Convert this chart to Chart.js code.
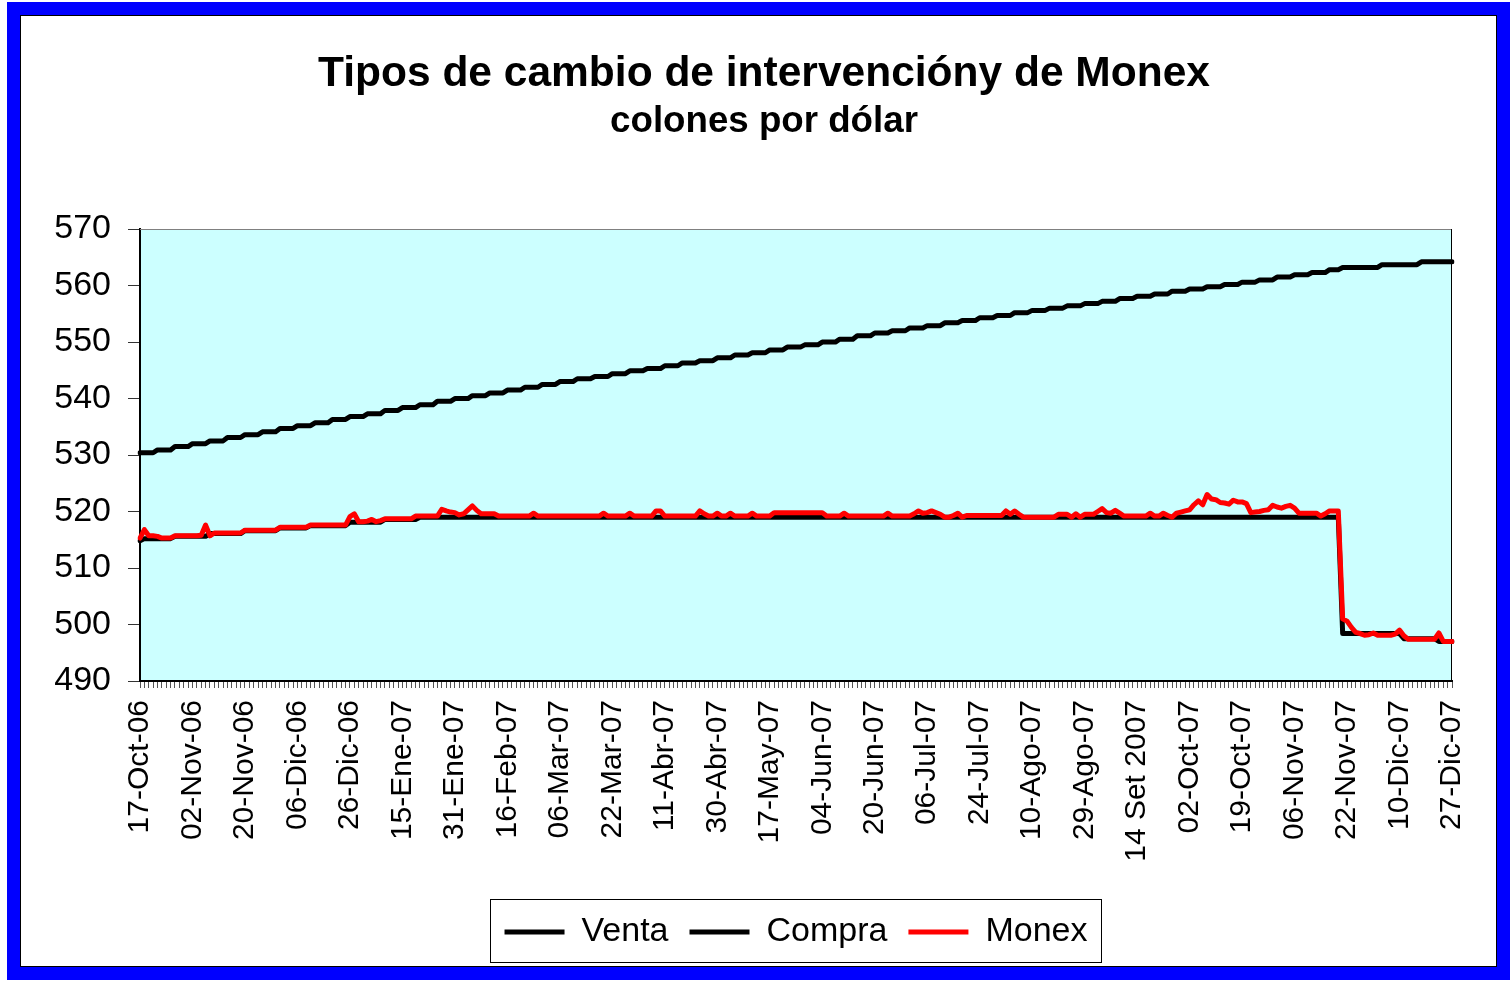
<!DOCTYPE html>
<html><head><meta charset="utf-8">
<script src="https://cdn.jsdelivr.net/npm/chart.js@4.4.1/dist/chart.umd.min.js"></script>
<style>
html,body{margin:0;padding:0;background:#fff;width:1512px;height:982px;overflow:hidden}
#frame{position:absolute;left:7px;top:2px;width:1503px;height:978px;box-sizing:border-box;border:13px solid #0000FF;box-shadow:inset 0 0 0 1px #000;background:#fff}
#c{position:absolute;left:0;top:0}
</style></head><body>
<div id="frame"></div>
<canvas id="c" width="1512" height="982"></canvas>
<script>
// Tick labels shown every 12 business days
const tickLabels = ['17-Oct-06','02-Nov-06','20-Nov-06','06-Dic-06','26-Dic-06','15-Ene-07','31-Ene-07','16-Feb-07','06-Mar-07','22-Mar-07','11-Abr-07','30-Abr-07','17-May-07','04-Jun-07','20-Jun-07','06-Jul-07','24-Jul-07','10-Ago-07','29-Ago-07','14 Set 2007','02-Oct-07','19-Oct-07','06-Nov-07','22-Nov-07','10-Dic-07','27-Dic-07'];
const labelEvery = 12;

const venta = [
530.4,530.4,530.4,530.4,530.9,530.9,530.9,530.9,531.5,531.5,531.5,531.5,
532.0,532.0,532.0,532.0,532.5,532.5,532.5,532.5,533.1,533.1,533.1,533.1,
533.6,533.6,533.6,533.6,534.1,534.1,534.1,534.1,534.7,534.7,534.7,534.7,
535.2,535.2,535.2,535.2,535.7,535.7,535.7,535.7,536.3,536.3,536.3,536.3,
536.8,536.8,536.8,536.8,537.3,537.3,537.3,537.3,537.9,537.9,537.9,537.9,
538.4,538.4,538.4,538.4,538.9,538.9,538.9,538.9,539.5,539.5,539.5,539.5,
540.0,540.0,540.0,540.0,540.5,540.5,540.5,540.5,541.0,541.0,541.0,541.0,
541.5,541.5,541.5,541.5,542.0,542.0,542.0,542.0,542.5,542.5,542.5,542.5,
543.0,543.0,543.0,543.0,543.5,543.5,543.5,543.5,543.9,543.9,543.9,543.9,
544.4,544.4,544.4,544.4,544.9,544.9,544.9,544.9,545.3,545.3,545.3,545.3,
545.8,545.8,545.8,545.8,546.3,546.3,546.3,546.3,546.7,546.7,546.7,546.7,
547.2,547.2,547.2,547.2,547.7,547.7,547.7,547.7,548.1,548.1,548.1,548.1,
548.6,548.6,548.6,548.6,549.1,549.1,549.1,549.1,549.5,549.5,549.5,549.5,
550.0,550.0,550.0,550.0,550.5,550.5,550.5,550.5,551.1,551.1,551.1,551.1,
551.6,551.6,551.6,551.6,552.0,552.0,552.0,552.0,552.5,552.5,552.5,552.5,
552.9,552.9,552.9,552.9,553.4,553.4,553.4,553.4,553.8,553.8,553.8,553.8,
554.3,554.3,554.3,554.3,554.7,554.7,554.7,554.7,555.2,555.2,555.2,555.2,
555.6,555.6,555.6,555.6,556.0,556.0,556.0,556.0,556.4,556.4,556.4,556.4,
556.8,556.8,556.8,556.8,557.2,557.2,557.2,557.2,557.7,557.7,557.7,557.7,
558.1,558.1,558.1,558.1,558.5,558.5,558.5,558.5,559.0,559.0,559.0,559.0,
559.4,559.4,559.4,559.4,559.8,559.8,559.8,559.8,560.2,560.2,560.2,560.2,
560.6,560.6,560.6,560.6,561.0,561.0,561.0,561.0,561.5,561.5,561.5,561.5,
561.9,561.9,561.9,561.9,562.3,562.3,562.3,562.3,562.8,562.8,562.8,563.2,
563.2,563.2,563.2,563.2,563.2,563.2,563.2,563.2,563.7,563.7,563.7,563.7,
563.7,563.7,563.7,563.7,563.7,564.2,564.2,564.2,564.2,564.2,564.2,564.2,
564.2];

const compra = [
514.8,515.2,515.2,515.2,515.2,515.2,515.2,515.2,515.6,515.6,515.6,515.6,
515.6,515.6,515.6,515.6,516.1,516.1,516.1,516.1,516.1,516.1,516.1,516.1,
516.6,516.6,516.6,516.6,516.6,516.6,516.6,516.6,517.1,517.1,517.1,517.1,
517.1,517.1,517.1,517.5,517.5,517.5,517.5,517.5,517.5,517.5,517.5,517.5,
518.1,518.1,518.1,518.1,518.1,518.1,518.1,518.1,518.6,518.6,518.6,518.6,
518.6,518.6,518.6,518.6,519.0,519.0,519.0,519.0,519.0,519.0,519.0,519.0,
519.0,519.0,519.0,519.0,519.0,519.0,519.0,519.0,519.0,519.0,519.0,519.0,
519.0,519.0,519.0,519.0,519.0,519.0,519.0,519.0,519.0,519.0,519.0,519.0,
519.0,519.0,519.0,519.0,519.0,519.0,519.0,519.0,519.0,519.0,519.0,519.0,
519.0,519.0,519.0,519.0,519.0,519.0,519.0,519.0,519.0,519.0,519.0,519.0,
519.0,519.0,519.0,519.0,519.0,519.0,519.0,519.0,519.0,519.0,519.0,519.0,
519.0,519.0,519.0,519.0,519.0,519.0,519.0,519.0,519.0,519.0,519.0,519.0,
519.0,519.0,519.0,519.0,519.0,519.0,519.0,519.0,519.0,519.0,519.0,519.0,
519.0,519.0,519.0,519.0,519.0,519.0,519.0,519.0,519.0,519.0,519.0,519.0,
519.0,519.0,519.0,519.0,519.0,519.0,519.0,519.0,519.0,519.0,519.0,519.0,
519.0,519.0,519.0,519.0,519.0,519.0,519.0,519.0,519.0,519.0,519.0,519.0,
519.0,519.0,519.0,519.0,519.0,519.0,519.0,519.0,519.0,519.0,519.0,519.0,
519.0,519.0,519.0,519.0,519.0,519.0,519.0,519.0,519.0,519.0,519.0,519.0,
519.0,519.0,519.0,519.0,519.0,519.0,519.0,519.0,519.0,519.0,519.0,519.0,
519.0,519.0,519.0,519.0,519.0,519.0,519.0,519.0,519.0,519.0,519.0,519.0,
519.0,519.0,519.0,519.0,519.0,519.0,519.0,519.0,519.0,519.0,519.0,519.0,
519.0,519.0,519.0,519.0,519.0,519.0,519.0,519.0,519.0,519.0,519.0,519.0,
519.0,519.0,519.0,519.0,519.0,519.0,519.0,519.0,519.0,519.0,519.0,498.4,
498.4,498.4,498.4,498.4,498.4,498.4,498.4,498.4,498.4,498.4,498.4,498.4,
498.4,497.5,497.5,497.5,497.5,497.5,497.5,497.5,497.5,497.0,497.0,497.0,
497.0];

const monex = [
515.3,516.8,515.7,515.7,515.6,515.3,515.3,515.3,515.7,515.7,515.7,515.7,
515.7,515.7,515.8,517.6,515.7,516.2,516.2,516.2,516.2,516.2,516.2,516.2,
516.7,516.7,516.7,516.7,516.7,516.7,516.7,516.7,517.2,517.2,517.2,517.2,
517.2,517.2,517.2,517.6,517.6,517.6,517.6,517.6,517.6,517.6,517.6,517.6,
519.1,519.6,518.2,518.2,518.3,518.6,518.2,518.4,518.7,518.7,518.7,518.7,
518.7,518.7,518.7,519.2,519.2,519.2,519.2,519.2,519.2,520.4,520.1,519.9,
519.8,519.4,519.6,520.3,521.0,520.2,519.6,519.6,519.6,519.6,519.2,519.2,
519.2,519.2,519.2,519.2,519.2,519.2,519.7,519.2,519.2,519.2,519.2,519.2,
519.2,519.2,519.2,519.2,519.2,519.2,519.2,519.2,519.2,519.2,519.7,519.2,
519.2,519.2,519.2,519.2,519.7,519.2,519.2,519.2,519.2,519.2,520.1,520.1,
519.2,519.2,519.2,519.2,519.2,519.2,519.2,519.2,520.1,519.6,519.2,519.2,
519.7,519.2,519.2,519.7,519.2,519.2,519.2,519.2,519.7,519.2,519.2,519.2,
519.2,519.8,519.8,519.8,519.8,519.8,519.8,519.8,519.8,519.8,519.8,519.8,
519.8,519.2,519.2,519.2,519.2,519.7,519.2,519.2,519.2,519.2,519.2,519.2,
519.2,519.2,519.2,519.7,519.2,519.2,519.2,519.2,519.2,519.6,520.1,519.7,
519.8,520.1,519.8,519.5,519.0,519.0,519.3,519.7,519.0,519.3,519.3,519.3,
519.3,519.3,519.3,519.3,519.3,519.3,520.1,519.5,520.1,519.5,519.0,519.0,
519.0,519.0,519.0,519.0,519.0,519.0,519.5,519.5,519.5,519.0,519.6,519.0,
519.5,519.5,519.5,520.0,520.5,519.8,519.7,520.2,519.7,519.2,519.2,519.2,
519.2,519.2,519.2,519.7,519.2,519.2,519.7,519.3,519.0,519.7,519.9,520.1,
520.3,521.2,521.9,521.2,523.0,522.2,522.1,521.6,521.5,521.3,522.0,521.7,
521.7,521.4,519.8,519.9,520.0,520.2,520.3,521.1,520.8,520.6,520.9,521.1,
520.6,519.7,519.7,519.7,519.7,519.7,519.2,519.6,520.1,520.1,520.1,501.0,
500.6,499.5,498.6,498.4,498.1,498.2,498.5,498.1,498.1,498.1,498.1,498.3,
499.0,498.0,497.4,497.4,497.4,497.4,497.4,497.4,497.4,498.5,497.0,497.0,
497.0];

// category axis: one entry per data point, tick text every 12th point
const categories = venta.map((v, i) => (i % labelEvery === 0 ? (tickLabels[i / labelEvery] || '') : ''));

const SANS = "'Liberation Sans', Arial, sans-serif";

const plotBg = {
  id: 'plotBg',
  beforeDraw(chart){
    const {ctx, chartArea: a} = chart;
    ctx.save(); ctx.fillStyle = '#CCFFFF';
    ctx.fillRect(a.left, a.top, a.right - a.left, a.bottom - a.top);
    ctx.restore();
  },
  beforeDatasetsDraw(chart){
    const {ctx, chartArea: a} = chart;
    ctx.save(); ctx.lineWidth = 1;
    ctx.strokeStyle = '#808080';
    ctx.beginPath(); ctx.moveTo(a.left, Math.round(a.top) + 0.5); ctx.lineTo(a.right, Math.round(a.top) + 0.5); ctx.stroke();
    ctx.strokeStyle = '#000';
    ctx.beginPath(); ctx.moveTo(Math.round(a.right) - 0.5, a.top); ctx.lineTo(Math.round(a.right) - 0.5, a.bottom); ctx.stroke();
    ctx.restore();
  }
};
const legendBox = {
  id: 'legendBox',
  afterDraw(chart){
    const lg = chart.legend; if (!lg || !lg.legendHitBoxes || !lg.legendHitBoxes.length) return;
    const hb = lg.legendHitBoxes;
    let minL = Infinity, maxR = -Infinity;
    hb.forEach(h => { minL = Math.min(minL, h.left); maxR = Math.max(maxR, h.left + h.width); });
    const x0 = Math.round(minL - 15), x1 = Math.round(maxR + 14);
    const y0 = Math.round(hb[0].top - 16), y1 = Math.round(hb[0].top + 47);
    const ctx = chart.ctx; ctx.save(); ctx.strokeStyle = '#000'; ctx.lineWidth = 1;
    ctx.strokeRect(x0 + 0.5, y0 + 0.5, x1 - x0, y1 - y0); ctx.restore();
  }
};

const common = { pointRadius: 0, pointHoverRadius: 0, borderWidth: 5, tension: 0, fill: false, borderCapStyle: 'round', borderJoinStyle: 'round' };

new Chart(document.getElementById('c'), {
  type: 'line',
  data: {
    labels: categories,
    datasets: [
      Object.assign({ label: 'Venta', data: venta, borderColor: '#000000', backgroundColor: '#000000', order: 3 }, common),
      Object.assign({ label: 'Compra', data: compra, borderColor: '#000000', backgroundColor: '#000000', order: 2 }, common),
      Object.assign({ label: 'Monex', data: monex, borderColor: '#FF0000', backgroundColor: '#FF0000', order: 1 }, common)
    ]
  },
  options: {
    responsive: false, animation: false, devicePixelRatio: 1,
    layout: { padding: { left: 40, right: 24, top: 0, bottom: 23 } },
    plugins: {
      title: { display: true, text: 'Tipos de cambio de intervencióny de Monex', color: '#000',
        font: { family: SANS, size: 42.5, weight: 'bold', lineHeight: 1.2 }, padding: { top: 49, bottom: 0 } },
      subtitle: { display: true, text: 'colones por dólar', color: '#000',
        font: { family: SANS, size: 36.7, weight: 'bold', lineHeight: 1.2 }, padding: { top: 0, bottom: 85 } },
      legend: { position: 'bottom', fullSize: false,
        labels: { usePointStyle: true, pointStyle: 'line', pointStyleWidth: 60, boxHeight: 5, padding: 21, color: '#000',
          font: { family: SANS, size: 34 },
          sort: (a, b) => a.datasetIndex - b.datasetIndex } },
      tooltip: { enabled: false }
    },
    scales: {
      x: {
        ticks: { autoSkip: false, minRotation: 90, maxRotation: 90, color: '#000', padding: 12,
          font: { family: SANS, size: 30 } },
        grid: { drawOnChartArea: false, drawTicks: true, tickLength: 7, color: '#555', lineWidth: 1 },
        border: { color: '#000', width: 2 },
        afterFit(s){ s.height = 213; }
      },
      y: {
        min: 490, max: 570,
        ticks: { stepSize: 10, color: '#000', padding: 17, font: { family: SANS, size: 34 } },
        grid: { drawOnChartArea: false, drawTicks: true, tickLength: 12, color: '#333', lineWidth: 1 },
        border: { color: '#000', width: 2 },
        afterFit(s){ s.width = 100; }
      },
      yR: {
        type: 'linear', position: 'right', display: true,
        ticks: { display: false }, grid: { display: false }, border: { display: false },
        afterFit(s){ s.width = 36; }
      }
    }
  },
  plugins: [plotBg, legendBox]
});
</script>
</body></html>
